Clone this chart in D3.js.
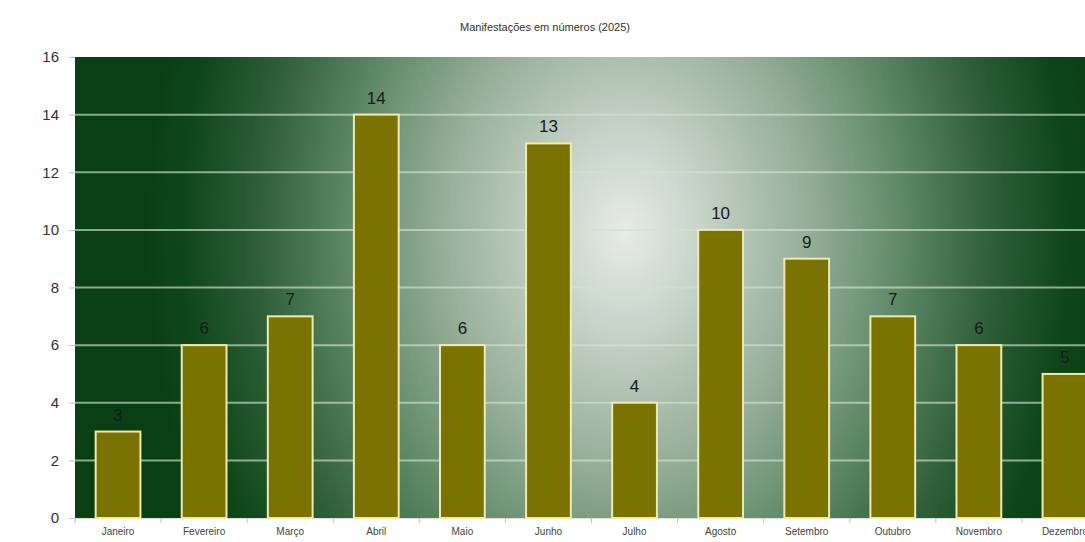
<!DOCTYPE html>
<html>
<head>
<meta charset="utf-8">
<script src="https://cdn.jsdelivr.net/npm/d3@7"></script>
<style>
  html, body { margin: 0; padding: 0; background: #fff; overflow: hidden; }
  svg { display: block; }
</style>
</head>
<body>
<svg id="chart" width="1085" height="542"></svg>
<script>
// Monthly counts of demonstrations
const months = ["Janeiro", "Fevereiro", "Março", "Abril", "Maio", "Junho",
                "Julho", "Agosto", "Setembro", "Outubro", "Novembro", "Dezembro"];
const counts = [3, 6, 7, 14, 6, 13, 4, 10, 9, 7, 6, 5];
const yTicks = [0, 2, 4, 6, 8, 10, 12, 14, 16];
const title = "Manifestações em números (2025)";

const svg = d3.select("#chart");
const margin = { left: 75, top: 57, bottom: 24 };
const plotW = 1033;               // plot runs past the right edge of the window
const plotH = 542 - margin.top - margin.bottom;

const x = d3.scaleBand().domain(months).range([0, plotW]).paddingInner(0.48).paddingOuter(0.24);
const y = d3.scaleLinear().domain([0, 16]).range([plotH, 0]);

// Background: tall elliptical glow, bright towards the middle, dark green at the sides
const defs = svg.append("defs");
const grad = defs.append("radialGradient")
  .attr("id", "bg")
  .attr("gradientUnits", "userSpaceOnUse")
  .attr("cx", 0).attr("cy", 0).attr("r", 1)
  .attr("gradientTransform", "translate(550,175) scale(480,620)");
[
  [0, "#e6ece6"],
  [0.15, "#c9d5ca"],
  [0.38, "#96ae98"],
  [0.58, "#5e8866"],
  [0.76, "#30603a"],
  [0.92, "#0f4619"],
  [1, "#0a3f14"]
].forEach(([o, c]) => grad.append("stop").attr("offset", o).attr("stop-color", c));

svg.append("text")
  .attr("x", 545).attr("y", 31)
  .attr("text-anchor", "middle")
  .attr("font-family", "Liberation Sans, Arial, sans-serif")
  .attr("font-size", 11)
  .attr("fill", "#333")
  .text(title);

const g = svg.append("g").attr("transform", `translate(${margin.left},${margin.top})`);

g.append("rect")
  .attr("width", plotW).attr("height", plotH)
  .attr("fill", "url(#bg)");

// Horizontal gridlines
g.append("g")
  .selectAll("line")
  .data(yTicks.filter(d => d > 0 && d < 16))
  .join("line")
  .attr("x1", 0).attr("x2", plotW)
  .attr("y1", d => y(d)).attr("y2", d => y(d))
  .attr("stroke", "#cfe3cf")
  .attr("stroke-opacity", 0.65)
  .attr("stroke-width", 2);

// Y axis
const yAxis = g.append("g")
  .call(d3.axisLeft(y).tickValues(yTicks).tickSize(6).tickPadding(10));
yAxis.select(".domain").remove();
yAxis.selectAll(".tick line").attr("stroke", "#b8c8b8");
yAxis.selectAll(".tick text")
  .attr("font-family", "Liberation Sans, Arial, sans-serif")
  .attr("font-size", 15)
  .attr("fill", "#333");

// X axis
const xAxis = g.append("g")
  .attr("transform", `translate(0,${plotH})`)
  .call(d3.axisBottom(x).tickSize(0).tickPadding(10));
xAxis.select(".domain").attr("stroke", "#d8e2d8");
xAxis.selectAll(".tick text")
  .attr("font-family", "Liberation Sans, Arial, sans-serif")
  .attr("font-size", 10)
  .attr("fill", "#444");

// Small ticks between categories
g.append("g")
  .selectAll("line")
  .data(months)
  .join("line")
  .attr("x1", d => x(d) - x.step() * x.paddingInner() / 2)
  .attr("x2", d => x(d) - x.step() * x.paddingInner() / 2)
  .attr("y1", plotH).attr("y2", plotH + 5)
  .attr("stroke", "#b8c8b8");

// Bars
g.append("g")
  .selectAll("rect")
  .data(months)
  .join("rect")
  .attr("x", d => x(d))
  .attr("y", (d, i) => y(counts[i]))
  .attr("width", x.bandwidth())
  .attr("height", (d, i) => plotH - y(counts[i]))
  .attr("fill", "#7b7204")
  .attr("stroke", "#eeeab0")
  .attr("stroke-width", 2);

// Value labels
g.append("g")
  .selectAll("text")
  .data(months)
  .join("text")
  .attr("x", d => x(d) + x.bandwidth() / 2)
  .attr("y", (d, i) => y(counts[i]) - 11)
  .attr("text-anchor", "middle")
  .attr("font-family", "Liberation Sans, Arial, sans-serif")
  .attr("font-size", 17)
  .attr("fill", "#1a1a1a")
  .text((d, i) => counts[i]);
</script>
</body>
</html>
